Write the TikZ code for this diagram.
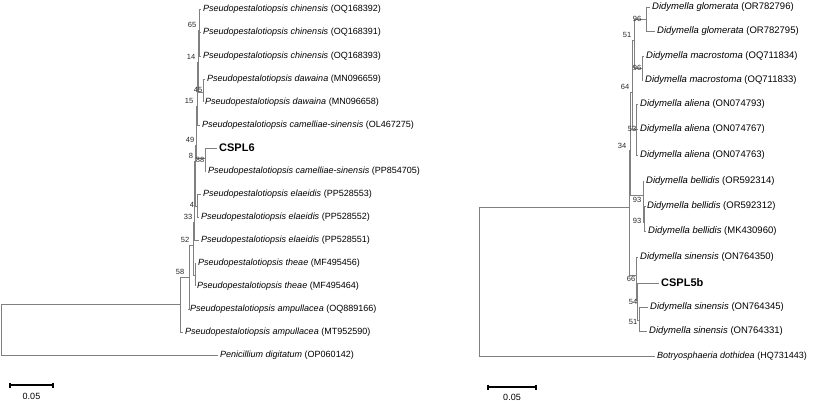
\documentclass[tikz,border=0pt]{standalone}
\usepackage{fontspec}
\setmainfont{Liberation Sans}
\definecolor{treegray}{RGB}{128,128,128}
\definecolor{bsgray}{RGB}{40,40,40}
\newcommand\taxon[2]{\textit{#1} #2}
\tikzset{
  br/.style={draw=treegray, line width=0.9pt},
  leaf/.style={anchor=west, inner sep=2pt, font=\fontsize{9}{11}\selectfont, text=black},
  rleaf/.style={anchor=west, inner sep=2pt, font=\fontsize{9.5}{11}\selectfont, text=black},
  cspl/.style={anchor=west, inner sep=2pt, font=\fontsize{11}{13}\selectfont\bfseries, text=black},
  bs/.style={font=\fontsize{7.5}{8}\selectfont, text=bsgray, inner sep=0pt},
  sbar/.style={draw=black, line width=1.3pt},
  sblab/.style={font=\fontsize{9}{10}\selectfont, text=black, inner sep=0pt},
}
\begin{document}
\begin{tikzpicture}[x=1pt,y=-1pt]
\useasboundingbox (0,0) rectangle (813,402);
% ---------------- left tree leaves
\node[leaf] (L1) at (201,9) {\taxon{Pseudopestalotiopsis chinensis}{(OQ168392)}};
\node[leaf] (L2) at (201,32) {\taxon{Pseudopestalotiopsis chinensis}{(OQ168391)}};
\node[leaf] (L3) at (201,56) {\taxon{Pseudopestalotiopsis chinensis}{(OQ168393)}};
\node[leaf] (L4) at (205,79) {\taxon{Pseudopestalotiopsis dawaina}{(MN096659)}};
\node[leaf] (L5) at (203,102) {\taxon{Pseudopestalotiopsis dawaina}{(MN096658)}};
\node[leaf] (L6) at (200,125) {\taxon{Pseudopestalotiopsis camelliae-sinensis}{(OL467275)}};
\node[cspl] (L7) at (217,148) {CSPL6};
\node[leaf] (L8) at (206,171) {\taxon{Pseudopestalotiopsis camelliae-sinensis}{(PP854705)}};
\node[leaf] (L9) at (201,194) {\taxon{Pseudopestalotiopsis elaeidis}{(PP528553)}};
\node[leaf] (L10) at (199,217) {\taxon{Pseudopestalotiopsis elaeidis}{(PP528552)}};
\node[leaf] (L11) at (199,240) {\taxon{Pseudopestalotiopsis elaeidis}{(PP528551)}};
\node[leaf] (L12) at (196,263) {\taxon{Pseudopestalotiopsis theae}{(MF495456)}};
\node[leaf] (L13) at (195,286) {\taxon{Pseudopestalotiopsis theae}{(MF495464)}};
\node[leaf] (L14) at (188,309) {\taxon{Pseudopestalotiopsis ampullacea}{(OQ889166)}};
\node[leaf] (L15) at (183,332) {\taxon{Pseudopestalotiopsis ampullacea}{(MT952590)}};
\node[leaf] (L16) at (218,355) {\taxon{Penicillium digitatum}{(OP060142)}};
% left internal nodes
\coordinate (N65) at (199,30);
\coordinate (N45) at (203,92);
\coordinate (N14) at (198.5,62);
\coordinate (N15) at (197,106);
\coordinate (N88) at (205,158);
\coordinate (N49) at (196.5,145);
\coordinate (N4) at (197,206);
\coordinate (N8) at (195.5,161);
\coordinate (N33) at (194.5,222);
\coordinate (Nt) at (195,275);
\coordinate (N52) at (193,245);
\coordinate (N58) at (189,277);
\coordinate (NA) at (180,304);
\coordinate (R0) at (1,329);
% left edges
\draw[br] (N65) |- (L1.west); \draw[br] (N65) |- (L2.west); \draw[br] (N65) |- (L3.west);
\draw[br] (N45) |- (L4.west); \draw[br] (N45) |- (L5.west);
\draw[br] (N14) |- (N65); \draw[br] (N14) |- (N45);
\draw[br] (N15) |- (N14); \draw[br] (N15) |- (L6.west);
\draw[br] (N88) |- (L7.west); \draw[br] (N88) |- (L8.west);
\draw[br] (N49) |- (N15); \draw[br] (N49) |- (N88);
\draw[br] (N4) |- (L9.west); \draw[br] (N4) |- (L10.west);
\draw[br] (N8) |- (N49); \draw[br] (N8) |- (N4);
\draw[br] (N33) |- (N8); \draw[br] (N33) |- (L11.west);
\draw[br] (Nt) |- (L12.west); \draw[br] (Nt) |- (L13.west);
\draw[br] (N52) |- (N33); \draw[br] (N52) |- (Nt);
\draw[br] (N58) |- (N52); \draw[br] (N58) |- (L14.west);
\draw[br] (NA) |- (N58); \draw[br] (NA) |- (L15.west);
\draw[br] (R0) |- (NA); \draw[br] (R0) |- (L16.west);
% left bootstrap values
\node[bs] (b65) at (192,25) {65};
\node[bs] (b14) at (191,57) {14};
\node[bs] (b45) at (198,90) {45};
\node[bs] (b15) at (189,101) {15};
\node[bs] (b49) at (190,140) {49};
\node[bs] (b8) at (191,156) {8};
\node[bs] (b88) at (200,160) {88};
\node[bs] (b4) at (192,205) {4};
\node[bs] (b33) at (188,217) {33};
\node[bs] (b52) at (185,240) {52};
\node[bs] (b58) at (180,272) {58};
% left scale bar
\coordinate (sa1) at (10,385); \coordinate (sa2) at (53,385);
\draw[sbar] (sa1) -- (sa2);
\draw[sbar] ([yshift=2.5pt]sa1) -- ([yshift=-2.5pt]sa1);
\draw[sbar] ([yshift=2.5pt]sa2) -- ([yshift=-2.5pt]sa2);
\node[sblab] (sat) at (31.5,396) {0.05};
% ---------------- right tree leaves
\node[rleaf] (R1) at (650,7) {\taxon{Didymella glomerata}{(OR782796)}};
\node[rleaf] (R2) at (655,31) {\taxon{Didymella glomerata}{(OR782795)}};
\node[rleaf] (R3) at (644,56) {\taxon{Didymella macrostoma}{(OQ711834)}};
\node[rleaf] (R4) at (643,80) {\taxon{Didymella macrostoma}{(OQ711833)}};
\node[rleaf] (R5) at (638,104) {\taxon{Didymella aliena}{(ON074793)}};
\node[rleaf] (R6) at (638,129) {\taxon{Didymella aliena}{(ON074767)}};
\node[rleaf] (R7) at (638,155) {\taxon{Didymella aliena}{(ON074763)}};
\node[rleaf] (R8) at (644,181) {\taxon{Didymella bellidis}{(OR592314)}};
\node[rleaf] (R9) at (645,206) {\taxon{Didymella bellidis}{(OR592312)}};
\node[rleaf] (R10) at (646,231) {\taxon{Didymella bellidis}{(MK430960)}};
\node[rleaf] (R11) at (638,257) {\taxon{Didymella sinensis}{(ON764350)}};
\node[cspl] (R12) at (659,283) {CSPL5b};
\node[rleaf] (R13) at (648,307) {\taxon{Didymella sinensis}{(ON764345)}};
\node[rleaf] (R14) at (647,331) {\taxon{Didymella sinensis}{(ON764331)}};
\node[leaf] (R15) at (655,356) {\taxon{Botryosphaeria dothidea}{(HQ731443)}};
% right internal nodes
\coordinate (M96a) at (646,19);
\coordinate (M96b) at (642,68);
\coordinate (M51) at (634,40);
\coordinate (M53) at (636,129);
\coordinate (M64) at (632,92);
\coordinate (M34) at (630.5,150);
\coordinate (Mb1) at (643,195);
\coordinate (Mb2) at (644.5,222);
\coordinate (M66) at (636,275);
\coordinate (M54) at (637.5,300);
\coordinate (M51b) at (639,320);
\coordinate (Mc) at (629,207);
\coordinate (RR) at (479,281);
% right edges
\draw[br] (M96a) |- (R1.west); \draw[br] (M96a) |- (R2.west);
\draw[br] (M96b) |- (R3.west); \draw[br] (M96b) |- (R4.west);
\draw[br] (M51) |- (M96a); \draw[br] (M51) |- (M96b);
\draw[br] (M53) |- (R5.west); \draw[br] (M53) |- (R6.west); \draw[br] (M53) |- (R7.west);
\draw[br] (M64) |- (M51); \draw[br] (M64) |- (M53);
\draw[br] (Mb2) |- (R9.west); \draw[br] (Mb2) |- (R10.west);
\draw[br] (Mb1) |- (R8.west); \draw[br] (Mb1) |- (Mb2);
\draw[br] (M34) |- (M64); \draw[br] (M34) |- (Mb1);
\draw[br] (M51b) |- (R13.west); \draw[br] (M51b) |- (R14.west);
\draw[br] (M54) |- (R12.west); \draw[br] (M54) |- (M51b);
\draw[br] (M66) |- (R11.west); \draw[br] (M66) |- (M54);
\draw[br] (Mc) |- (M34); \draw[br] (Mc) |- (M66);
\draw[br] (RR) |- (Mc); \draw[br] (RR) |- (R15.west);
% right bootstrap values
\node[bs] (c96a) at (637,19) {96};
\node[bs] (c51) at (627,35) {51};
\node[bs] (c96b) at (637,68) {96};
\node[bs] (c64) at (625,87) {64};
\node[bs] (c53) at (632,129) {53};
\node[bs] (c34) at (622,146) {34};
\node[bs] (c93a) at (637,200) {93};
\node[bs] (c93b) at (637,221) {93};
\node[bs] (c66) at (631,279) {66};
\node[bs] (c54) at (633,302) {54};
\node[bs] (c51b) at (633,322) {51};
% right scale bar
\coordinate (sb1) at (488,387); \coordinate (sb2) at (536,387);
\draw[sbar] (sb1) -- (sb2);
\draw[sbar] ([yshift=2.5pt]sb1) -- ([yshift=-2.5pt]sb1);
\draw[sbar] ([yshift=2.5pt]sb2) -- ([yshift=-2.5pt]sb2);
\node[sblab] (sbt) at (512,397) {0.05};
\end{tikzpicture}
\end{document}
